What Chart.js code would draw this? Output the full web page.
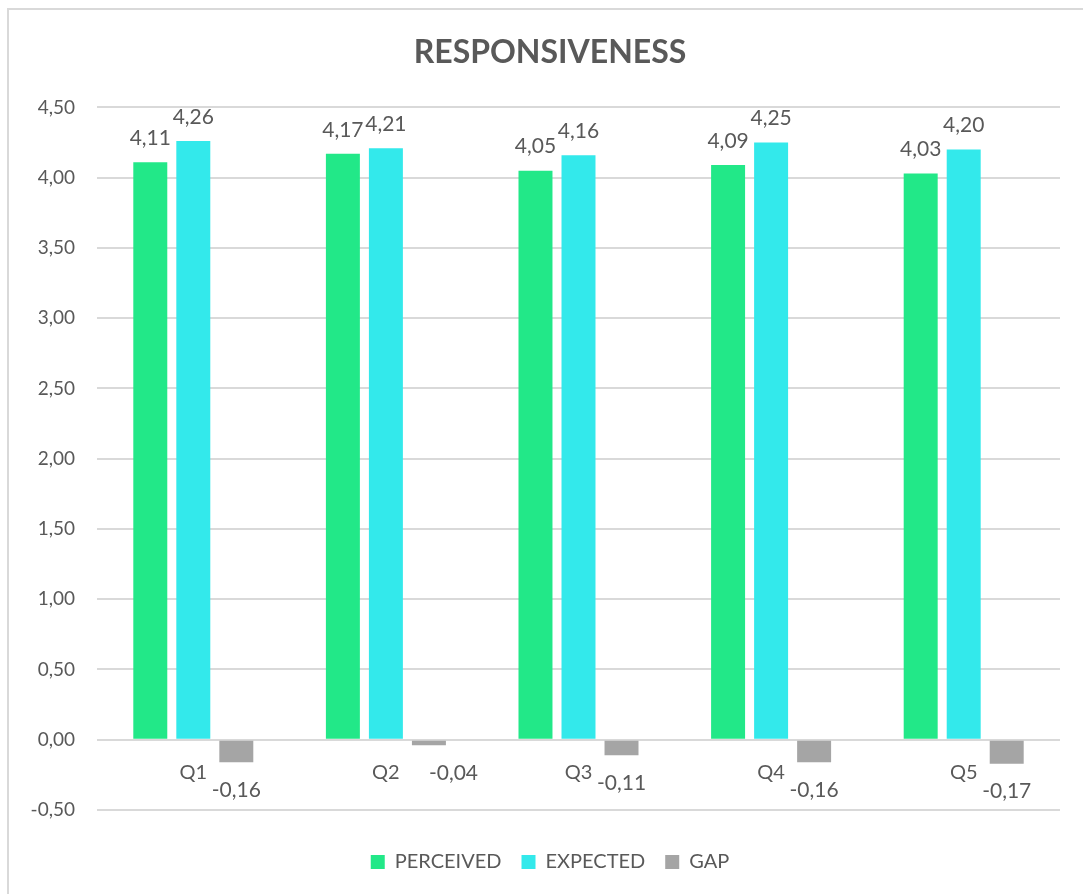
<!DOCTYPE html>
<html>
<head>
<meta charset="utf-8">
<title>Responsiveness</title>
<script src="https://cdn.jsdelivr.net/npm/chart.js@4/dist/chart.umd.min.js"></script>
<style>
  html, body { margin: 0; padding: 0; background: #fff; overflow: hidden; }
  .frame {
    position: absolute; left: 7px; top: 8px; width: 1100px; height: 900px;
    border-left: 2px solid #d9d9d9; border-top: 2px solid #d9d9d9;
  }
  .box { position: absolute; left: 0; top: 0; width: 1100px; height: 894px; }
</style>
</head>
<body>
<div class="frame"></div>
<div class="box"><canvas id="myChart"></canvas></div>
<script>
const categories = ['Q1', 'Q2', 'Q3', 'Q4', 'Q5'];
const perceived = [4.11, 4.17, 4.05, 4.09, 4.03];
const expected = [4.26, 4.21, 4.16, 4.25, 4.20];
const gap = [-0.16, -0.04, -0.11, -0.16, -0.17];

const fontFamily = 'Lato, "Open Sans", sans-serif';
const textColor = '#595959';

const fmt = v => v.toFixed(2).replace('.', ',');

// value labels over (or under) every bar; a label under a very short bar
// would sit on the category name, so it is nudged to the right
const barLabels = {
    id: 'barLabels',
    afterDatasetsDraw(chart) {
        const ctx = chart.ctx;
        const zero = chart.scales.y.getPixelForValue(0);
        ctx.save();
        ctx.font = '21px ' + fontFamily;
        ctx.textAlign = 'center';
        ctx.textBaseline = 'middle';
        ctx.fillStyle = textColor;
        chart.data.datasets.forEach((ds, i) => {
            chart.getDatasetMeta(i).data.forEach((bar, j) => {
                const v = ds.data[j];
                const txt = fmt(v);
                let x = bar.x;
                let y;
                if (v >= 0) {
                    y = bar.y - 24;
                } else {
                    y = bar.y + 28;
                    if (y - zero < 40) x += ctx.measureText(txt).width / 2;
                }
                ctx.fillText(txt, x, y);
            });
        });
        ctx.restore();
    }
};

// push the legend a bit further down, away from the plot
const legendShift = {
    id: 'legendShift',
    afterLayout(chart) {
        if (chart.legend) {
            chart.legend.top += 22;
            chart.legend.bottom += 22;
        }
    }
};

const data = {
    labels: categories,
    datasets: [{
        label: 'PERCEIVED',
        data: perceived,
        backgroundColor: '#22e888'
    }, {
        label: 'EXPECTED',
        data: expected,
        backgroundColor: '#33e9eb'
    }, {
        label: 'GAP',
        data: gap,
        backgroundColor: '#a5a5a5'
    }]
};

const config = {
    type: 'bar',
    data: data,
    plugins: [barLabels, legendShift],
    options: {
        responsive: true,
        maintainAspectRatio: false,
        animation: false,
        categoryPercentage: 0.67,
        barPercentage: 0.79,
        layout: { padding: { left: 0, right: 0, top: 0, bottom: 34 } },
        plugins: {
            tooltip: { enabled: false },
            title: {
                display: true,
                text: 'RESPONSIVENESS',
                color: textColor,
                font: { family: fontFamily, size: 32, weight: 'bold' },
                padding: { top: 33, bottom: 36 }
            },
            legend: {
                position: 'bottom',
                labels: {
                    color: textColor,
                    font: { family: fontFamily, size: 20 },
                    boxWidth: 14,
                    boxHeight: 14,
                    padding: 20
                }
            }
        },
        scales: {
            x: {
                position: { y: 0 },
                grid: { display: false },
                border: { display: false },
                ticks: {
                    color: textColor,
                    font: { family: fontFamily, size: 20 },
                    padding: 13
                }
            },
            y: {
                min: -0.5,
                max: 4.5,
                afterFit: scale => { scale.width = 97; },
                grid: { color: '#d9d9d9', lineWidth: 2, drawTicks: false },
                border: { display: false },
                ticks: {
                    stepSize: 0.5,
                    color: textColor,
                    font: { family: fontFamily, size: 19 },
                    padding: 22,
                    callback: v => fmt(v)
                }
            },
            // empty right-hand margin
            yRight: {
                position: 'right',
                min: -0.5,
                max: 4.5,
                afterFit: scale => { scale.width = 40; },
                grid: { display: false },
                border: { display: false },
                ticks: { display: false }
            }
        }
    }
};

let myChart = new Chart(document.getElementById('myChart'), config);
</script>
</body>
</html>
